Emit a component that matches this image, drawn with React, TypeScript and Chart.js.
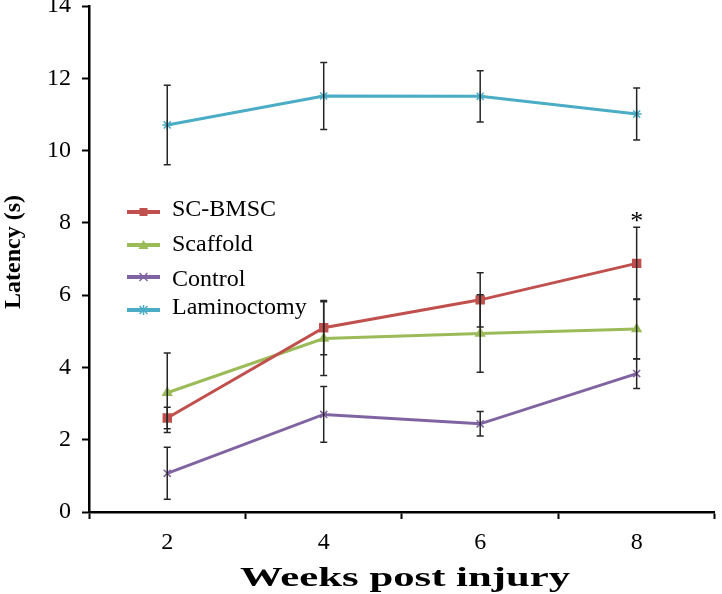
import React, { useEffect, useRef } from 'react';
import { Chart, registerables } from 'chart.js';
Chart.register(...registerables);

const weeks = ['2', '4', '6', '8'];
const scBmsc = [2.6, 5.1, 5.87, 6.88];
const scBmscErr = [0.3, 0.75, 0.75, 1.0];
const scaffold = [3.3, 4.8, 4.94, 5.06];
const scaffoldErr = [1.1, 1.02, 1.07, 0.83];
const control = [1.07, 2.7, 2.44, 3.83];
const controlErr = [0.72, 0.77, 0.34, 0.41];
const laminoctomy = [10.71, 11.51, 11.5, 11.01];
const laminoctomyErr = [1.1, 0.93, 0.71, 0.72];
const yTicks = [0, 2, 4, 6, 8, 10, 12, 14];

const RED = '#C0504D';
const GREEN = '#9BBB59';
const PURPLE = '#8064A2';
const BLUE = '#4BACC6';
const SERIF = '"Liberation Serif", "Times New Roman", serif';
const OFF = 20; // canvas is shifted up by this many px

const errs = [scBmscErr, scaffoldErr, controlErr, laminoctomyErr];

function drawMarker(ctx: CanvasRenderingContext2D, style: string, x: number, y: number, color: string) {
  ctx.save();
  ctx.fillStyle = color;
  ctx.strokeStyle = color;
  ctx.lineWidth = 1.5;
  ctx.beginPath();
  if (style === 'rect') {
    ctx.rect(x - 4, y - 4, 8, 8);
    ctx.fill();
  } else if (style === 'triangle') {
    ctx.moveTo(x, y - 5);
    ctx.lineTo(x + 5, y + 4);
    ctx.lineTo(x - 5, y + 4);
    ctx.closePath();
    ctx.fill();
  } else if (style === 'crossRot') {
    ctx.moveTo(x - 4, y - 4); ctx.lineTo(x + 4, y + 4);
    ctx.moveTo(x + 4, y - 4); ctx.lineTo(x - 4, y + 4);
    ctx.stroke();
  } else {
    ctx.moveTo(x - 4, y - 4); ctx.lineTo(x + 4, y + 4);
    ctx.moveTo(x + 4, y - 4); ctx.lineTo(x - 4, y + 4);
    ctx.moveTo(x, y - 5); ctx.lineTo(x, y + 5);
    ctx.stroke();
  }
  ctx.restore();
}

const errorBarPlugin = {
  id: 'errorBars',
  afterDatasetsDraw(chart: any) {
    const ctx = chart.ctx;
    const ys = chart.scales.y;
    ctx.save();
    ctx.strokeStyle = '#262626';
    ctx.lineWidth = 1.5;
    chart.data.datasets.forEach((ds: any, di: number) => {
      const meta = chart.getDatasetMeta(di);
      meta.data.forEach((pt: any, i: number) => {
        const v = ds.data[i];
        const e = errs[di][i];
        const x = pt.x;
        const y1 = ys.getPixelForValue(v + e);
        const y2 = ys.getPixelForValue(v - e);
        ctx.beginPath();
        ctx.moveTo(x, y1); ctx.lineTo(x, y2);
        ctx.moveTo(x - 3.5, y1); ctx.lineTo(x + 3.5, y1);
        ctx.moveTo(x - 3.5, y2); ctx.lineTo(x + 3.5, y2);
        ctx.stroke();
      });
    });
    ctx.restore();
  },
};

const decorPlugin = {
  id: 'decor',
  afterDraw(chart: any) {
    const ctx = chart.ctx;
    ctx.save();
    // legend
    const items = [
      { label: 'SC-BMSC', color: RED, style: 'rect', line: 212, base: 216 },
      { label: 'Scaffold', color: GREEN, style: 'triangle', line: 245, base: 251 },
      { label: 'Control', color: PURPLE, style: 'crossRot', line: 277, base: 286 },
      { label: 'Laminoctomy', color: BLUE, style: 'star', line: 310, base: 314 },
    ];
    items.forEach((it) => {
      ctx.strokeStyle = it.color;
      ctx.lineWidth = 4;
      ctx.beginPath();
      ctx.moveTo(127, it.line + OFF);
      ctx.lineTo(160, it.line + OFF);
      ctx.stroke();
      drawMarker(ctx, it.style, 143.5, it.line + OFF, it.color);
      ctx.fillStyle = '#000';
      ctx.font = `24px ${SERIF}`;
      ctx.textAlign = 'left';
      ctx.textBaseline = 'alphabetic';
      ctx.fillText(it.label, 172, it.base + OFF);
    });
    // asterisk
    const xs = chart.scales.x;
    ctx.font = `26px ${SERIF}`;
    ctx.textAlign = 'center';
    ctx.fillText('*', xs.getPixelForValue(3), 229 + OFF);
    // x title (stretched horizontally as in reference)
    ctx.save();
    ctx.font = `bold 28px ${SERIF}`;
    const w = ctx.measureText('Weeks post injury').width;
    const sx = 330 / w;
    ctx.translate(405, 586 + OFF);
    ctx.scale(sx, 1);
    ctx.fillText('Weeks post injury', 0, 0);
    ctx.restore();
    // y title
    ctx.font = `bold 24px ${SERIF}`;
    ctx.textAlign = 'center';
    ctx.translate(20, 252 + OFF);
    ctx.rotate(-Math.PI / 2);
    ctx.fillText('Latency (s)', 0, 0);
    ctx.restore();
  },
};

export default function App() {
  const ref = useRef<HTMLCanvasElement>(null);
  useEffect(() => {
    const mk = (label: string, data: number[], color: string, style: string, r: number) => ({
      label,
      data,
      borderColor: color,
      backgroundColor: color,
      pointBorderColor: color,
      pointBackgroundColor: color,
      borderWidth: 3,
      pointStyle: style,
      pointRadius: r,
      pointBorderWidth: 1.5,
      tension: 0,
    });
    const chart = new Chart(ref.current!, {
      type: 'line',
      data: {
        labels: weeks,
        datasets: [
          mk('SC-BMSC', scBmsc, RED, 'rect', 5.6),
          mk('Scaffold', scaffold, GREEN, 'triangle', 5),
          mk('Control', control, PURPLE, 'crossRot', 5),
          mk('Laminoctomy', laminoctomy, BLUE, 'star', 5),
        ],
      },
      options: {
        responsive: false,
        animation: false,
        layout: { padding: { left: 0, right: 2, top: 26, bottom: 0 } },
        plugins: { legend: { display: false }, tooltip: { enabled: false } },
        scales: {
          x: {
            type: 'category',
            offset: true,
            grid: {
              offset: true,
              drawOnChartArea: false,
              drawTicks: true,
              tickLength: 7,
              tickColor: '#000',
              tickWidth: 2,
            },
            border: { color: '#000', width: 2.5 },
            ticks: { color: '#000', font: { family: SERIF, size: 24 }, padding: 9, maxRotation: 0 },
            afterFit: (s: any) => { s.height = 82; },
          },
          y: {
            min: 0,
            max: 14,
            afterBuildTicks: (s: any) => { s.ticks = yTicks.map((v) => ({ value: v })); },
            grid: {
              drawOnChartArea: false,
              drawTicks: true,
              tickLength: 7,
              tickColor: '#000',
              tickWidth: 2,
            },
            border: { color: '#000', width: 2.5 },
            ticks: { color: '#000', font: { family: SERIF, size: 24 }, padding: 11 },
            afterFit: (s: any) => { s.width = 89; },
          },
        },
      },
      plugins: [errorBarPlugin, decorPlugin],
    } as any);
    return () => chart.destroy();
  }, []);
  return (
    <div style={{ position: 'absolute', left: 0, top: -OFF, width: 722, height: 594 + OFF }}>
      <canvas ref={ref} width={722} height={594 + OFF} style={{ display: 'block' }} />
    </div>
  );
}
